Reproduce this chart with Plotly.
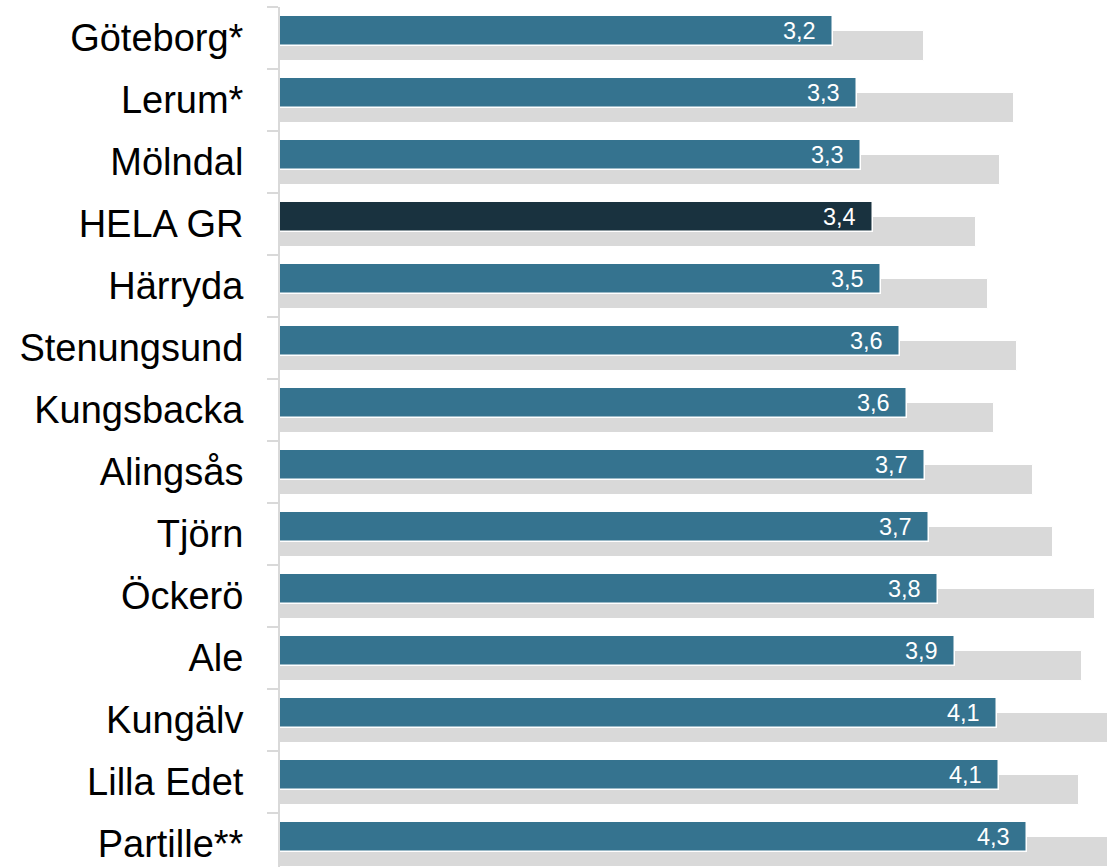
import plotly.graph_objects as go

categories = ["Göteborg*", "Lerum*", "Mölndal", "HELA GR", "Härryda", "Stenungsund",
              "Kungsbacka", "Alingsås", "Tjörn", "Öckerö", "Ale", "Kungälv",
              "Lilla Edet", "Partille**"]
current = [3.178, 3.316, 3.339, 3.408, 3.454, 3.563, 3.603, 3.707, 3.730, 3.782,
           3.879, 4.121, 4.132, 4.293]
previous = [3.701, 4.218, 4.138, 4.000, 4.069, 4.236, 4.103, 4.328, 4.443, 4.684,
            4.609, 4.85, 4.592, 4.90]

BLUE = "#35738f"
DARK = "#19323f"
GRAY = "#d9d9d9"

bar_colors = [DARK if c == "HELA GR" else BLUE for c in categories]
labels = [f"{v:.1f}".replace(".", ",") for v in current]

fig = go.Figure()
fig.add_trace(go.Bar(
    y=categories, x=previous, orientation="h",
    marker=dict(color=GRAY, line=dict(color="white", width=1)),
    width=0.484, offset=-0.113, hoverinfo="skip", showlegend=False,
))
fig.add_trace(go.Bar(
    y=categories, x=current, orientation="h",
    marker=dict(color=bar_colors, line=dict(color="white", width=1.5)),
    width=0.484, offset=-0.359, showlegend=False,
))

for c, v, t in zip(categories, current, labels):
    fig.add_annotation(
        x=v, y=c, text=t, showarrow=False, xanchor="right", yanchor="middle",
        xshift=-15, yshift=7.3,
        font=dict(family="Liberation Sans, Arial, sans-serif", size=23.5, color="white"),
    )

fig.update_layout(
    width=1107, height=867,
    margin=dict(l=280, r=0, t=7, b=0, pad=0),
    paper_bgcolor="white", plot_bgcolor="white",
    barmode="overlay",
    bargap=0,
)
fig.update_xaxes(range=[0, 827 / 174], visible=False, showgrid=False, zeroline=False)
fig.update_yaxes(
    type="category",
    categoryorder="array", categoryarray=categories,
    range=[-0.5 + 860 / 62, -0.5],
    showgrid=False, zeroline=False,
    showline=True, linecolor=GRAY, linewidth=2,
    ticks="outside", tickson="boundaries", ticklen=11, tickwidth=2, tickcolor=GRAY,
    ticklabelstandoff=27,
    tickfont=dict(family="Liberation Sans, Arial, sans-serif", size=38, color="black"),
)

fig.write_html(
    "out.html",
    config={"displayModeBar": False},
    post_script="document.body.style.margin='0';document.body.style.overflow='hidden';",
)
